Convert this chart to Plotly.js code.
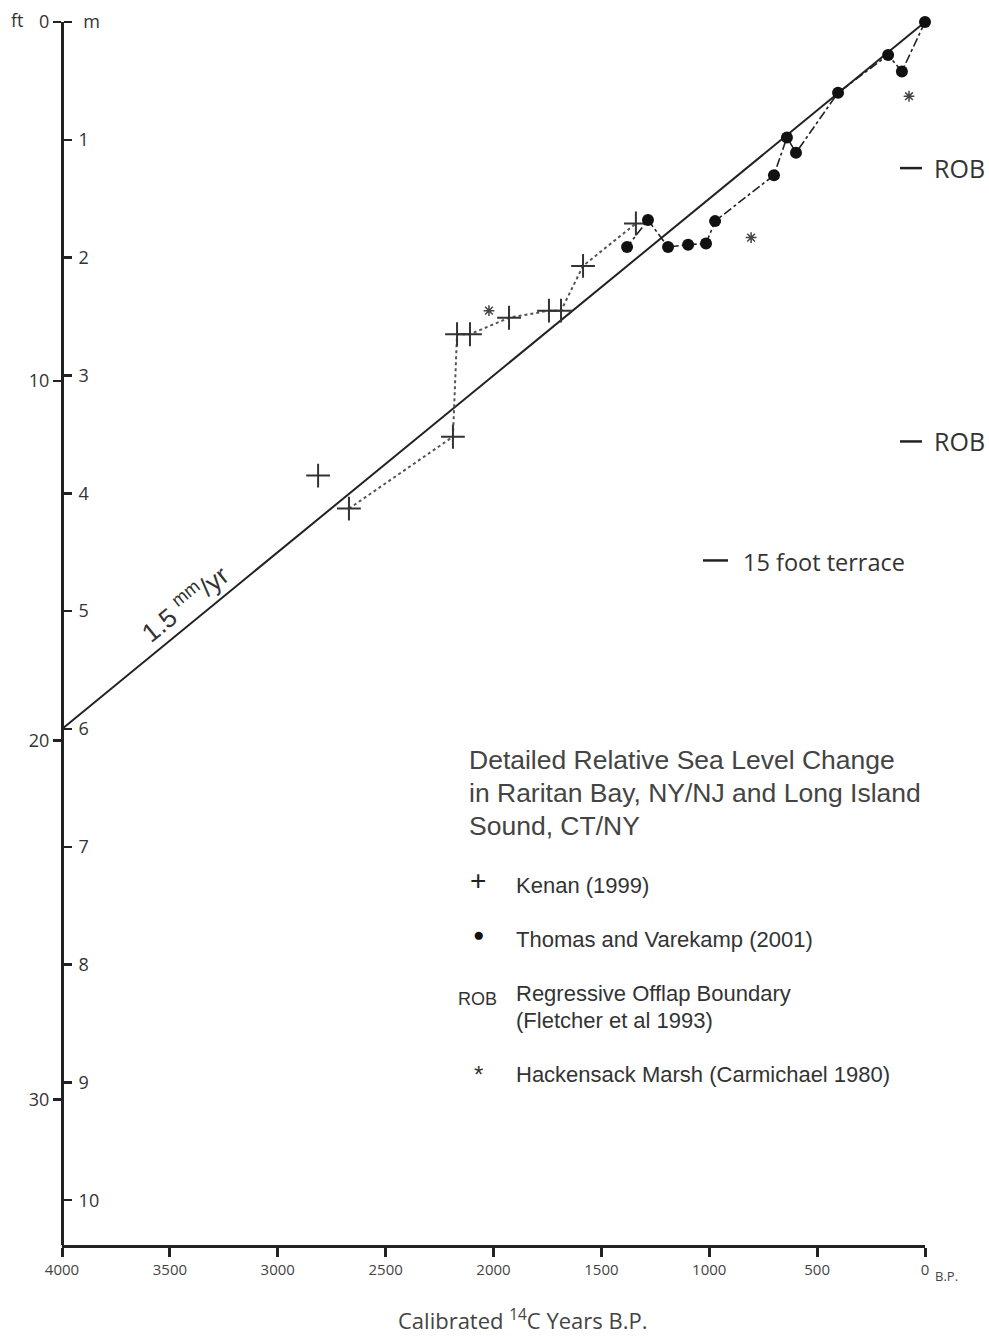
<!DOCTYPE html>
<html>
<head>
<meta charset="utf-8">
<script src="https://cdn.plot.ly/plotly-3.0.1.min.js"></script>
<style>html,body{margin:0;padding:0;background:#fff;}#chart{width:989px;height:1337px;}</style>
</head>
<body>
<div id="chart"></div>
<script>
// ---- Data (years B.P., depth in metres below present) ----
const rateLineYears = [4000, 0];
const rateLineDepth = [6.0, 0.0];

// Kenan (1999) "+" points; first one is isolated, rest joined by dotted line
const kenanYears = [2813, 2670, 2188, 2169, 2109, 1928, 1743, 1687, 1585, 1340];
const kenanDepth = [3.85, 4.13, 3.52, 2.65, 2.65, 2.51, 2.45, 2.45, 2.07, 1.71];

// Thomas and Varekamp (2001) filled circles
const thomasYears = [0, 107, 171, 403, 598, 640, 700, 973, 1015, 1098, 1191, 1284, 1381];
const thomasDepth = [0.0, 0.42, 0.28, 0.60, 1.11, 0.98, 1.30, 1.69, 1.88, 1.89, 1.91, 1.68, 1.91];

// Hackensack Marsh (Carmichael 1980) asterisks
const hackYears = [74, 806, 2021];
const hackDepth = [0.63, 1.83, 2.45];

// Regressive Offlap Boundary depths and the 15 foot terrace
const robDepth = [1.24, 3.56];
const terraceDepth = [4.57];

const mTicks = [0, 1, 2, 3, 4, 5, 6, 7, 8, 9, 10];
const mTickText = ['&nbsp;m', '1', '2', '3', '4', '5', '6', '7', '8', '9', '10'];
const ftTicks = [0, 10, 20, 30];
const xTicks = [4000, 3500, 3000, 2500, 2000, 1500, 1000, 500, 0];
const xTickText = ['4000', '3500', '3000', '2500', '2000', '1500', '1000', '500', '0'];

// ---- layout geometry helpers ----
const L = 62, R = 925, T = 22, B = 1245;
const px = x => (x - L) / (R - L);
const py = y => (B - y) / (B - T);
const yMax = 10.38;
const FT = 0.3048;

function segs(depths, y0, y1) {
  const xs = [], ys = [];
  depths.forEach(d => { xs.push(y0, y1, null); ys.push(d, d, null); });
  return {xs, ys};
}
const rob = segs(robDepth, 116, 14);
const terr = segs(terraceDepth, 1029, 913);

const traces = [
  {x: rateLineYears, y: rateLineDepth, mode: 'lines', line: {color: '#222', width: 2}, hoverinfo: 'skip'},
  {x: kenanYears.slice(1), y: kenanDepth.slice(1), mode: 'lines', line: {color: '#555', width: 2, dash: 'dot'}, hoverinfo: 'skip'},
  {x: thomasYears, y: thomasDepth, mode: 'lines', line: {color: '#222', width: 1.6, dash: 'dashdot'}, hoverinfo: 'skip'},
  {x: kenanYears, y: kenanDepth, mode: 'markers', cliponaxis: false, marker: {symbol: 'cross-thin', size: 17, line: {color: '#333', width: 2}}},
  {x: thomasYears, y: thomasDepth, mode: 'markers', cliponaxis: false, marker: {symbol: 'circle', size: 12, color: '#111'}},
  {x: hackYears, y: hackDepth, mode: 'markers', cliponaxis: false, marker: {symbol: 'asterisk', size: 9, line: {color: '#444', width: 1.5}}},
  {x: rob.xs, y: rob.ys, mode: 'lines', line: {color: '#222', width: 2.5}, hoverinfo: 'skip'},
  {x: terr.xs, y: terr.ys, mode: 'lines', line: {color: '#222', width: 2.5}, hoverinfo: 'skip'},
  {x: [2000], y: [10], yaxis: 'y2', mode: 'markers', marker: {opacity: 0}, hoverinfo: 'skip'}
];

const sans = 'Open Sans, sans-serif';
const arial = 'Liberation Sans, Arial, sans-serif';

const ann = [];
function txt(text, x, y, size, family, opts) {
  ann.push(Object.assign({text, x: px(x), y: py(y), xref: 'paper', yref: 'paper', showarrow: false,
    xanchor: 'left', yanchor: 'middle', font: {size, family, color: '#333'}}, opts || {}));
}
txt('ft', 9, 20, 18, sans);
txt('B.P.', 933, 1276, 13, sans, {font: {size: 13, family: sans, color: '#444'}});
txt('ROB', 932, 168, 25, sans);
txt('ROB', 932, 441, 25, sans);
txt('15 foot terrace', 741, 562, 23.5, sans);
const titleFont = {size: 26.5, family: arial, color: '#444'};
txt('Detailed Relative Sea Level Change', 467, 760, 26.5, arial, {font: titleFont});
txt('in Raritan Bay, NY/NJ and Long Island', 467, 793, 26.5, arial, {font: titleFont});
txt('Sound, CT/NY', 467, 826, 26.5, arial, {font: titleFont});
txt('+', 478, 880, 28, arial, {xanchor: 'center', font: {size: 28, family: arial, color: '#222'}});
txt('Kenan (1999)', 514, 885, 22, arial);
txt('●', 478, 934, 19, arial, {xanchor: 'center', font: {size: 19, family: arial, color: '#111'}});
txt('Thomas and Varekamp (2001)', 514, 939, 22, arial);
txt('ROB', 477, 999, 18, arial, {xanchor: 'center'});
txt('Regressive Offlap Boundary', 514, 993, 22, arial);
txt('(Fletcher et al 1993)', 514, 1020, 22, arial);
txt('*', 478, 1074, 24, arial, {xanchor: 'center'});
txt('Hackensack Marsh (Carmichael 1980)', 514, 1074, 22, arial);
txt('Calibrated <sup>14</sup>C Years B.P.', 523, 1319, 22, sans, {xanchor: 'center', font: {size: 22, family: sans, color: '#444'}});
ann.push({text: '1.5 <sup>mm</sup>/yr', x: 3430, y: 4.93, xref: 'x', yref: 'y', showarrow: false,
  textangle: -39, font: {size: 26, family: arial, color: '#333'}});

const layout = {
  width: 989, height: 1337,
  margin: {l: L, r: 989 - R, t: T, b: 1337 - B, pad: 0},
  paper_bgcolor: '#fff', plot_bgcolor: '#fff',
  showlegend: false,
  xaxis: {
    range: [4000, 0], showgrid: false, zeroline: false,
    showline: true, linewidth: 3, linecolor: '#222',
    ticks: 'outside', ticklen: 9, tickwidth: 3, tickcolor: '#222',
    tickvals: xTicks, ticktext: xTickText,
    tickfont: {size: 15, family: sans, color: '#444'}
  },
  yaxis: {
    range: [yMax, 0], showgrid: false, zeroline: false,
    side: 'right', anchor: 'free', position: 0,
    showline: true, linewidth: 3, linecolor: '#222',
    ticks: 'outside', ticklen: 8, tickwidth: 2.5, tickcolor: '#222',
    ticklabelstandoff: 3,
    tickvals: mTicks, ticktext: mTickText,
    tickfont: {size: 18, family: sans, color: '#333'}
  },
  yaxis2: {
    overlaying: 'y', side: 'left', anchor: 'x', range: [yMax / FT, 0],
    showgrid: false, zeroline: false, showline: false,
    ticks: 'outside', ticklen: 8, tickwidth: 2.5, tickcolor: '#222',
    tickvals: ftTicks, ticktext: ftTicks.map(String),
    tickfont: {size: 18, family: sans, color: '#333'}
  },
  annotations: ann
};

Plotly.newPlot('chart', traces, layout, {staticPlot: true, displayModeBar: false});
</script>
</body>
</html>
